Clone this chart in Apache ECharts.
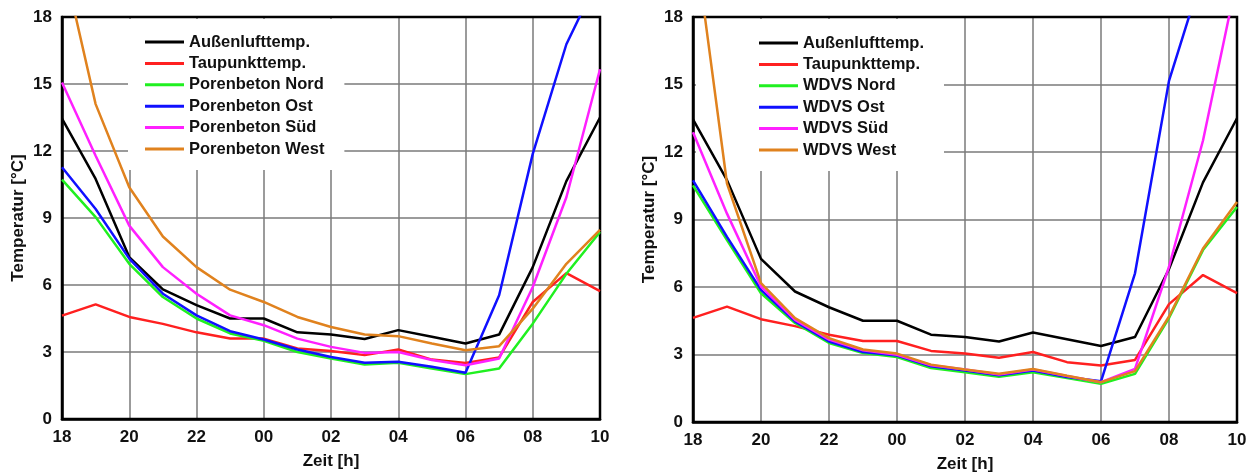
<!DOCTYPE html>
<html>
<head>
<meta charset="utf-8">
<script src="https://cdn.jsdelivr.net/npm/echarts@6/dist/echarts.min.js"></script>
<style>html,body{margin:0;padding:0;background:#fff;}#c{width:1254px;height:473px;}</style>
</head>
<body>
<div id="c"></div>
<script>
const hours = ['18','19','20','21','22','23','00','01','02','03','04','05','06','07','08','09','10'];
const aussen   = [13.45,10.75,7.25,5.8,5.1,4.5,4.5,3.88,3.78,3.58,3.98,3.68,3.38,3.78,6.8,10.65,13.5];
const taupunkt = [4.63,5.13,4.57,4.26,3.88,3.6,3.6,3.16,3.04,2.86,3.11,2.66,2.51,2.76,5.24,6.53,5.73];
const pbNord = [10.72,9.04,6.95,5.46,4.5,3.83,3.5,3.0,2.71,2.44,2.52,2.26,2.01,2.26,4.27,6.5,8.37];
const pbOst  = [11.27,9.4,7.18,5.61,4.64,3.93,3.56,3.11,2.78,2.52,2.56,2.34,2.07,5.54,11.87,16.78,19.9];
const pbSued = [15.07,11.79,8.66,6.8,5.61,4.64,4.2,3.6,3.23,2.96,3.0,2.64,2.41,2.71,5.91,9.93,15.66];
const pbWest = [20.7,14.1,10.38,8.17,6.8,5.79,5.24,4.57,4.12,3.78,3.71,3.38,3.08,3.26,4.94,6.95,8.47];
const wdvsNord = [10.52,8.08,5.72,4.4,3.51,3.07,2.89,2.4,2.21,2.01,2.21,1.96,1.7,2.14,4.62,7.64,9.56];
const wdvsOst  = [10.74,8.23,5.87,4.47,3.58,3.11,2.95,2.48,2.29,2.08,2.29,2.0,1.81,6.61,15.16,20.0,24];
const wdvsSued = [12.88,9.26,6.02,4.54,3.66,3.19,2.99,2.52,2.33,2.11,2.33,2.04,1.77,2.36,6.9,12.51,19.7];
const wdvsWest = [22,10.6,6.17,4.62,3.73,3.22,3.04,2.55,2.33,2.14,2.36,2.06,1.77,2.26,4.69,7.71,9.78];
const leftNames  = ['Außenlufttemp.','Taupunkttemp.','Porenbeton Nord','Porenbeton Ost','Porenbeton Süd','Porenbeton West'];
const rightNames = ['Außenlufttemp.','Taupunkttemp.','WDVS Nord','WDVS Ost','WDVS Süd','WDVS West'];
const colors = ['#000000','#ff2020','#20f020','#1010ff','#ff20ff','#e0821e'];
const yTitle = 'Temperatur [°C]';
const xTitle = 'Zeit [h]';

const FONT = '"Liberation Sans", Arial, sans-serif';
const TXT = '#111';
const GRIDC = '#7a7a7a';

function xAxis(gi){
  return {
    type:'category', gridIndex:gi, data:hours, boundaryGap:false,
    axisLine:{show:true, lineStyle:{color:'#000', width:2.5}}, axisTick:{show:false},
    axisLabel:{interval:1, color:TXT, fontFamily:FONT, fontWeight:'bold', fontSize:17, margin:10},
    splitLine:{show:true, interval:1, showMinLine:false, showMaxLine:false, lineStyle:{color:GRIDC, width:1.5}},
    name:xTitle, nameLocation:'middle', nameGap:34,
    nameTextStyle:{color:TXT, fontFamily:FONT, fontWeight:'bold', fontSize:17}
  };
}
function yAxis(gi){
  return {
    type:'value', gridIndex:gi, min:0, max:18, interval:3,
    axisLine:{show:true, lineStyle:{color:'#000', width:2.5}}, axisTick:{show:false},
    axisLabel:{color:TXT, fontFamily:FONT, fontWeight:'bold', fontSize:17, margin:10},
    splitLine:{show:true, showMinLine:false, showMaxLine:false, lineStyle:{color:GRIDC, width:1.5}},
    name:yTitle, nameLocation:'middle', nameGap:35,
    nameTextStyle:{color:TXT, fontFamily:FONT, fontWeight:'bold', fontSize:17}
  };
}
function mk(name, data, color, gi){
  return {type:'line', name, data, xAxisIndex:gi, yAxisIndex:gi, symbol:'none',
    lineStyle:{color, width:2.5}, itemStyle:{color}, z:3, animation:false};
}
const leftData = [aussen, taupunkt, pbNord, pbOst, pbSued, pbWest];
const rightData = [aussen, taupunkt, wdvsNord, wdvsOst, wdvsSued, wdvsWest];
const series = [];
leftNames.forEach((n,i)=>series.push(mk(n, leftData[i], colors[i], 0)));
rightNames.forEach((n,i)=>series.push(mk(n, rightData[i], colors[i], 1)));

function legend(names, left, pad){
  return {
    data:names.map((n,i)=>({name:n, itemStyle:{color:colors[i]}})),
    orient:'vertical', left, top:19, z:1,
    backgroundColor:'#ffffff', padding:pad,
    icon:'rect', itemWidth:39, itemHeight:3, itemGap:3.4,
    selectedMode:false,
    textStyle:{color:TXT, fontFamily:FONT, fontWeight:'bold', fontSize:16.5, lineHeight:18}
  };
}

const chart = echarts.init(document.getElementById('c'), null, {renderer:'canvas'});
chart.setOption({
  animation:false,
  backgroundColor:'#ffffff',
  grid:[
    {left:62, right:654, top:17, bottom:54, outerBoundsMode:'none', containLabel:false, show:true, borderColor:'#000', borderWidth:2.5, backgroundColor:'transparent', z:2},
    {left:693, right:17, top:17, bottom:51, outerBoundsMode:'none', containLabel:false, show:true, borderColor:'#000', borderWidth:2.5, backgroundColor:'transparent', z:2}
  ],
  xAxis:[xAxis(0), xAxis(1)],
  yAxis:[yAxis(0), yAxis(1)],
  legend:[
    legend(leftNames, 128, [14, 20, 12, 17]),
    legend(rightNames, 696, [15, 20, 12, 63])
  ],
  series
});
</script>
</body>
</html>
